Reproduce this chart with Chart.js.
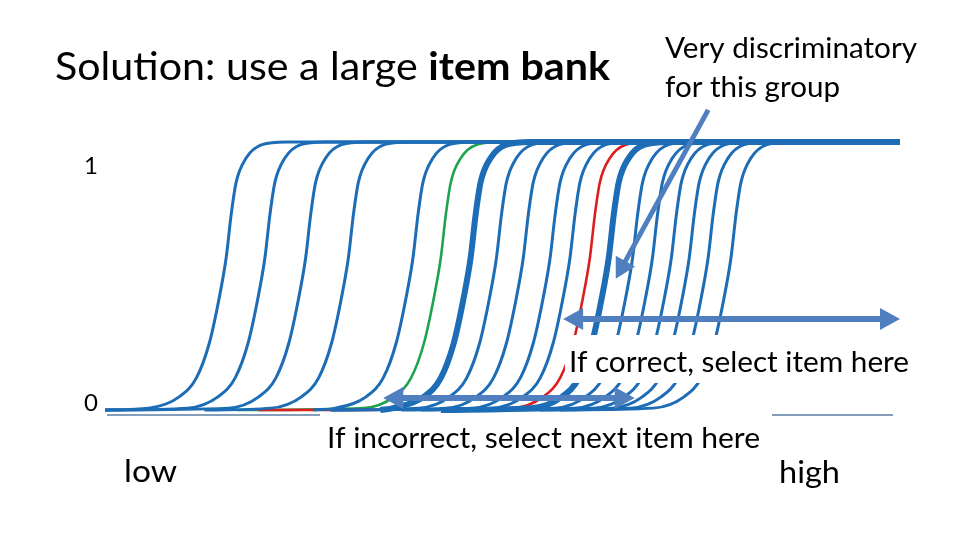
<!DOCTYPE html>
<html>
<head>
<meta charset="utf-8">
<script src="https://cdn.jsdelivr.net/npm/chart.js@4"></script>
<style>
  html, body { margin: 0; padding: 0; background: #fff; }
  #chart { display: block; }
</style>
</head>
<body>
<canvas id="chart" width="960" height="540"></canvas>
<script>
// item difficulties on the ability axis (-4 .. 4)
const itemCenters = [-2.81, -2.42, -2.01, -1.58, -0.93, -0.65, -0.35, -0.09, 0.18, 0.45,
    0.65, 0.85, 1.04, 1.28, 1.48, 1.67, 1.85, 2.04, 2.27];
// where each curve's flat bottom begins
const itemStarts = [-4, -4, -4, -3.0, -1.9, -2.67, -1.23, -1.73, -1.73, -1.02,
    -0.82, -2.46, -0.62, -0.32, -0.22, -0.02, 0.18, 0.38, 0.58];
// shape of one item curve: distance from difficulty -> P(correct)
const curveOffsets = [-0.75, -0.44, -0.27, -0.14, -0.04, 0.03, 0.08, 0.13, 0.23, 0.39, 0.63];
const curveProbs = [0.007, 0.05, 0.12, 0.25, 0.42, 0.57, 0.73, 0.85, 0.94, 0.99, 1.0];
const yTicks = ["0", "1"];

const greenItem = 5;
const redItem = 11;
const thickItems = [6, 12];

const BLUE = "#1c6cb6";
const ARROW = "#4f7fbf";
const xMin = -4, xMax = 4;

function itemPoints(i) {
    const pts = [{x: itemStarts[i], y: 0}];
    curveOffsets.forEach((d, k) => {
        const x = itemCenters[i] + d;
        if (x > itemStarts[i]) pts.push({x: x, y: curveProbs[k]});
    });
    pts.push({x: xMax, y: 1});
    return pts;
}

const datasets = itemCenters.map((c, i) => {
    let color = BLUE, width = 3, order = 50 - i;
    if (i === greenItem) { color = "#1ea24f"; width = 2.6; order = 100; }
    if (i === redItem) { color = "#dc1e1e"; width = 2.6; order = 99; }
    if (thickItems.includes(i)) width = 6;
    return {
        data: itemPoints(i),
        borderColor: color,
        borderWidth: width,
        pointRadius: 0,
        cubicInterpolationMode: "monotone",
        clip: false,
        order: order
    };
});

// annotation arrows in chart units
const arrows = [
    {from: [2.07, 1.12], to: [1.14, 0.49], both: false, w: 5},
    {from: [0.61, 0.34], to: [4.0, 0.34], both: true, w: 6},
    {from: [-1.2, 0.045], to: [1.33, 0.045], both: true, w: 6}
];

function drawArrow(ctx, x1, y1, x2, y2, both, w) {
    const ang = Math.atan2(y2 - y1, x2 - x1);
    const hl = 20, hw = 11;
    const head = (x, y, a) => {
        ctx.beginPath();
        ctx.moveTo(x, y);
        ctx.lineTo(x - hl * Math.cos(a) + hw * Math.sin(a), y - hl * Math.sin(a) - hw * Math.cos(a));
        ctx.lineTo(x - hl * Math.cos(a) - hw * Math.sin(a), y - hl * Math.sin(a) + hw * Math.cos(a));
        ctx.closePath();
        ctx.fill();
    };
    ctx.save();
    ctx.strokeStyle = ARROW;
    ctx.fillStyle = ARROW;
    ctx.lineWidth = w;
    ctx.beginPath();
    const sx = both ? x1 + (hl - 2) * Math.cos(ang) : x1;
    const sy = both ? y1 + (hl - 2) * Math.sin(ang) : y1;
    ctx.moveTo(sx, sy);
    ctx.lineTo(x2 - (hl - 2) * Math.cos(ang), y2 - (hl - 2) * Math.sin(ang));
    ctx.stroke();
    head(x2, y2, ang);
    if (both) head(x1, y1, ang + Math.PI);
    ctx.restore();
}

// text drawn with Lato, squeezed to the width it takes on the slide
function fitText(ctx, parts, x, y, size, width, align) {
    ctx.save();
    let total = 0;
    parts.forEach(p => {
        ctx.font = p[1] + " " + size + "px Lato";
        total += ctx.measureText(p[0]).width;
    });
    const sx = width ? width / total : 1;
    ctx.translate(align === "center" ? x - total * sx / 2 : x, y);
    ctx.scale(sx, 1);
    ctx.fillStyle = "#000";
    ctx.textBaseline = "alphabetic";
    let cx = 0;
    parts.forEach(p => {
        ctx.font = p[1] + " " + size + "px Lato";
        ctx.fillText(p[0], cx, 0);
        cx += ctx.measureText(p[0]).width;
    });
    ctx.restore();
}

const slidePlugin = {
    id: "slide",
    beforeDatasetsDraw(chart) {
        const ctx = chart.ctx;
        ctx.save();
        ctx.strokeStyle = "#5b7fa6";
        ctx.lineWidth = 1.5;
        ctx.beginPath();
        ctx.moveTo(107, 415);
        ctx.lineTo(893, 415);
        ctx.stroke();
        ctx.restore();
    },
    afterDatasetsDraw(chart) {
        const ctx = chart.ctx;
        const xs = chart.scales.x, ys = chart.scales.y;

        ctx.save();
        ctx.fillStyle = "#fff";
        ctx.fillRect(565, 335, 345, 48);
        ctx.fillRect(320, 413, 452, 44);
        ctx.restore();

        arrows.forEach(a => drawArrow(ctx,
            xs.getPixelForValue(a.from[0]), ys.getPixelForValue(a.from[1]),
            xs.getPixelForValue(a.to[0]), ys.getPixelForValue(a.to[1]), a.both, a.w));

        fitText(ctx, [["Solution: use a large ", "normal"], ["item bank", "bold"]], 55, 80, 39, 555);
        fitText(ctx, [["Very discriminatory", "normal"]], 665, 58, 28, 252);
        fitText(ctx, [["for this group", "normal"]], 665, 97, 28, 175);
        fitText(ctx, [[yTicks[1], "normal"]], 91, 174, 24, null, "center");
        fitText(ctx, [[yTicks[0], "normal"]], 91, 411, 24, null, "center");
        fitText(ctx, [["If correct, select item here", "normal"]], 569, 372, 29, 340);
        fitText(ctx, [["If incorrect, select next item here", "normal"]], 327, 448, 29, 433);
        fitText(ctx, [["low", "normal"]], 124, 482, 31, 53);
        fitText(ctx, [["high", "normal"]], 779, 483, 31, 61);
    }
};

new Chart(document.getElementById("chart"), {
    type: "line",
    data: {datasets: datasets},
    options: {
        responsive: false,
        animation: false,
        layout: {padding: {left: 105, right: 60, top: 142, bottom: 130}},
        scales: {
            x: {type: "linear", min: xMin, max: xMax, display: false},
            y: {min: 0, max: 1, display: false}
        },
        plugins: {legend: {display: false}, tooltip: {enabled: false}}
    },
    plugins: [slidePlugin]
});
</script>
</body>
</html>
